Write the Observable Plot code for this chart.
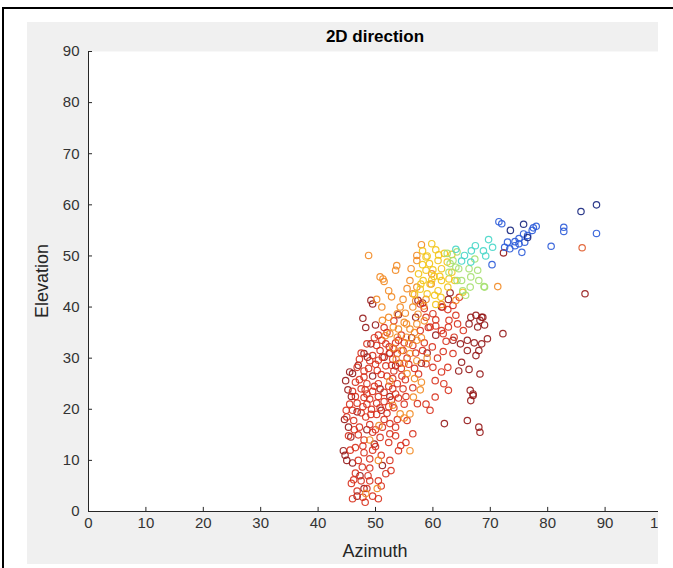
<!DOCTYPE html>
<html>
<head>
<meta charset="utf-8">
<script src="https://cdn.jsdelivr.net/npm/d3@7"></script>
<script src="https://cdn.jsdelivr.net/npm/@observablehq/plot@0.6"></script>
<style>
  html, body { margin: 0; padding: 0; background: #fff; }
  #wrap { position: relative; width: 673px; height: 568px; overflow: hidden; background: #fff; }
  #fig { position: absolute; left: 0; top: 0; width: 658px; height: 568px; overflow: hidden; }
  .bl { position: absolute; background: #000; }
  #gray { position: absolute; left: 27px; top: 22px; width: 640px; height: 542px; background: #f0f0f0; }
  #chart { position: absolute; left: 0; top: 0; width: 690px; height: 568px; }
  #chart svg { max-width: none !important; }
  .txt { position: absolute; font-family: "Liberation Sans", Arial, sans-serif; color: #262626; white-space: nowrap; }
  #title { left: 88px; width: 574px; top: 27px; text-align: center; font-weight: bold; font-size: 17px; color: #000; }
  #xlab { left: 88px; width: 574px; top: 541px; text-align: center; font-size: 18px; }
  #ylab { left: 42px; top: 281px; font-size: 18px; transform: translate(-50%, -50%) rotate(-90deg); }
</style>
</head>
<body>
<div id="wrap">
  <div id="fig">
    <div id="gray"></div>
    <div id="chart"></div>
    <div class="txt" id="title">2D direction</div>
    <div class="txt" id="xlab">Azimuth</div>
    <div class="txt" id="ylab">Elevation</div>
  </div>
  <div class="bl" style="left:2px;top:7px;width:2px;height:561px;"></div>
  <div class="bl" style="left:2px;top:7px;width:671px;height:2px;"></div>
</div>
<script>
// Tick values
const xTicks = [0, 10, 20, 30, 40, 50, 60, 70, 80, 90, 100];
const yTicks = [0, 10, 20, 30, 40, 50, 60, 70, 80, 90];

// Points [azimuth, elevation], grouped by colour of the (jet) colour value
const darkBlue = [[88.5, 60], [85.8, 58.7], [75.8, 56.2], [73.5, 55], [76.5, 53.6]];
const blue = [[71.5, 56.7], [72, 56.3], [82.8, 55.6], [82.8, 54.8], [88.5, 54.4], [80.6, 51.9], [73, 52.7], [74.3, 52.8],
  [75, 53.4], [75.8, 54.3], [76.5, 54], [77.3, 55], [73.4, 51.4], [74.3, 52], [76, 52.7], [75.5, 50.7], [75, 52.4],
  [70.3, 48.3], [77.5, 55.5], [72.5, 51.7], [78, 55.8]];
const cyan = [[69.7, 53.2], [70.4, 51.7], [68.8, 51], [66.7, 51], [65.5, 50.1], [66.6, 48.8], [69.2, 50], [64, 51.3],
  [67.4, 52], [65, 49]];
const green = [[64.2, 50.8], [63.5, 49.1], [67.3, 49.4], [64, 47.8], [66.3, 47.5], [64.2, 45.2], [69, 43.9], [66.5, 43.9],
  [65.2, 43.2], [67.8, 47.2], [68.9, 44], [64.5, 47.5], [66.6, 45.9], [65.7, 42.3], [68, 45.2], [62.8, 46.8], [65, 45.2],
  [63, 48.5], [62.5, 50.5]];
const yellow = [[59.8, 52.4], [60.5, 51.2], [59, 50], [58.8, 49.8], [59.4, 48.5], [60.9, 49.1], [62.5, 48.8], [58.8, 47.2],
  [61.5, 47.5], [63.3, 46.8], [58.3, 45.2], [61.5, 45.2], [62.6, 43.9], [59, 42.6], [60.9, 43.2], [61.4, 41.9], [63.8, 45.2],
  [65.2, 42.9], [60.2, 46], [57.5, 46.5], [59.5, 44.5], [62, 50.5], [61, 50.2], [57.8, 43.5], [60.5, 40.5], [56.8, 42.5],
  [58.2, 48.3], [60, 47.3], [61.2, 46], [62.8, 45.5], [59.8, 45.3], [60.3, 42.3], [63.3, 50.3], [58.2, 51], [57.9, 44.5]];
const orange = [[48.8, 50.1], [58, 52.2], [57.2, 50.1], [53.7, 48.1], [53.5, 47.2], [50.8, 45.9], [51.3, 45.5], [52.3, 43.2],
  [56.2, 47.5], [57.2, 49.1], [59.8, 46.5], [59.7, 44.5], [57.2, 43.9], [56, 45.2], [56.5, 42.6], [56.5, 40], [54.3, 40],
  [53.8, 38.7], [52.3, 38], [51.2, 37.4], [53.1, 36.1], [51.1, 40], [55.4, 36.7], [56, 35.7], [57.2, 36.7], [57.2, 33.5],
  [55.4, 34.1], [53.8, 34.1], [56, 30.9], [57.2, 29.5], [51.7, 34.4], [52.5, 34.8], [54, 35.7], [71.3, 44], [56.8, 26],
  [58, 25.3], [56.6, 22.4], [56, 19.1], [54.3, 19.1], [55, 18.3], [56, 11.9], [51.5, 45], [50.2, 41.5], [57.4, 38.6],
  [52.8, 42], [61.5, 40.5], [64, 41.3], [58.4, 40.2], [59, 30], [55.5, 27], [52.5, 25.5], [50.3, 4.5], [50.5, 10],
  [49, 14], [55, 37], [53, 32], [58, 34],
  [54.5, 31.5], [55.8, 32.8], [56.8, 35], [58.5, 37.3], [55.2, 38.8], [54.8, 41.5], [55.5, 43.6], [57, 41.2], [58.8, 41.5],
  [55, 29], [53.6, 29.8], [57.8, 23.8], [53, 20.8], [50.6, 16.8], [48.3, 3.5]];
const red = [[57.8, 40.6], [58.5, 39.7], [60, 38.7], [61.7, 40], [62.6, 39.5], [58.8, 38], [60.5, 37.5], [62.8, 37.4],
  [64, 38.4], [63.5, 40.3], [64.6, 41.9], [59.5, 36.1], [61.5, 35.4], [62.7, 36.1], [61.8, 34.8], [63.7, 34.1], [65.3, 35.4],
  [64.3, 36.7], [57.8, 35.4], [59.2, 36],
  [51.1, 33.5], [52.4, 32.2], [50.8, 31.5], [53.8, 30.9], [54.8, 31.5], [52.4, 30.9], [49, 29.5], [51.2, 30.2], [53, 29.8],
  [54.2, 29], [55.5, 30], [58.2, 31.5], [59.9, 32.2], [63.5, 30.9], [62.6, 28.2], [61.5, 27.3], [58.8, 28.9], [60, 28.2],
  [57.5, 26.9], [46.8, 28.2], [48, 26.3], [50.3, 27.6], [51.8, 28.5], [53.2, 27.5], [52, 26.5], [54.5, 28], [50.2, 32.5],
  [49.5, 30.5], [53.5, 33], [56.5, 32.5], [55, 33], [48.5, 32.8], [47.5, 31], [52, 35], [50.5, 34.5],
  [46.5, 25.3], [47.5, 24], [48.5, 25], [49.5, 23.5], [50.5, 25], [51.5, 23.3], [52.3, 24.5], [53.5, 23], [54.8, 24],
  [49, 22], [50.2, 21.2], [51.5, 21.5], [52.8, 21.8], [54, 22.2], [55, 21], [57.3, 21.1], [58.8, 21], [59.5, 19.8],
  [60.4, 25.6], [61.9, 25], [62.7, 23.7], [60.4, 22.4], [45.5, 21], [46.5, 22.5], [47.8, 20.5], [48.5, 23], [53, 26],
  [55.2, 25.8], [56.5, 24.2], [48, 27.5], [46, 23.5], [50.5, 22.5], [53.2, 20.3],
  [46.2, 17.8], [47.2, 16.5], [48.3, 18.5], [49, 17], [50.2, 19], [51.5, 18], [52.5, 17.2], [53.5, 16.5], [55.5, 17.8],
  [47, 15], [48, 14], [49.5, 15.5], [50.8, 14.5], [52.3, 13.5], [54.4, 12.9], [54, 11.9], [46.5, 12.5], [48, 11.5],
  [49.5, 12], [51, 11], [52.5, 10], [52.7, 8], [51.8, 7.4], [47, 10], [49, 8.5], [50.5, 6], [45, 18.5], [46, 19.8],
  [47.5, 19.3], [53.5, 14.8], [56.5, 15.2], [55.3, 13.5], [45.3, 14.8], [49.3, 20],
  [46.5, 7.5], [47.5, 6], [48.5, 4.5], [46.8, 4], [47.8, 2.8], [49.5, 3], [48.2, 1.8], [46, 2.5], [50.5, 2.5],
  [45.8, 5.5], [49, 6], [51, 5],
  [48.5, 21], [49.8, 24.5], [51, 26.8], [52.8, 28.6], [50, 28.8], [48.8, 28], [47.2, 25.8], [49.2, 19], [50.8, 20.3],
  [52, 19.2], [53.8, 18], [48, 22.3], [51.2, 16.5], [50, 16], [52.5, 15.2], [47.8, 12.8], [46.3, 16], [45.6, 12],
  [53, 24], [54.6, 26.5], [55.8, 28.8], [51.8, 32.8], [53.2, 31.8], [54.5, 34.5], [49.8, 34], [50.5, 29.6], [47.2, 29.8],
  [48.2, 23.8], [46.8, 21.2], [44.9, 19.8], [53.8, 25], [55.3, 22.5], [52.3, 20.5], [49, 10.3], [50, 12.7], [47.7, 8.7],
  [48.7, 7], [46.2, 6.2], [56.8, 28], [58.5, 33], [60.8, 30], [61.8, 31.3], [62.3, 33.3], [60.5, 36.3], [57, 31],
  [54, 33.5], [51.5, 36], [53.2, 37.3]];
const darkRed = [[49.5, 40.6], [49.2, 41.3], [57.4, 41.3], [58.2, 40.8], [61.5, 40], [66.6, 38], [67.5, 38.4], [68.2, 37.4],
  [67.8, 36.1], [66.3, 36.7], [68.5, 38], [72.2, 34.8], [66, 33.5], [67.2, 33], [68.5, 32.8], [68, 31.5], [66, 31.5],
  [65, 29.2], [68.2, 26.9], [64.8, 32.8], [66.5, 23.7], [67, 22.7], [66, 17.8], [68, 16.5], [68.2, 15.5], [62, 17.2],
  [66.6, 21.7], [67, 23], [86.5, 42.6], [72.3, 50.6], [68.7, 38], [69, 36.5], [49.2, 32.8], [48, 30.9], [48.6, 30.2],
  [51.5, 30.2], [52.5, 31], [44.8, 25.6], [45.5, 27.3], [47, 28.6], [45.8, 22.5], [45.3, 16.5], [45.7, 14.6],
  [44.4, 11.9], [45, 10], [44.7, 11], [46, 9.5], [47.3, 7], [46.8, 3], [48, 4.5], [46, 27], [49.5, 26.5], [50.8, 24],
  [52.5, 22.5], [53.5, 28.5], [51, 19.8], [48.5, 16], [56.3, 34], [60.5, 34.5], [59, 31], [58, 29], [57, 38], [54, 38.5],
  [63.5, 33.5], [64.5, 27.5], [46.8, 19.5], [49.8, 13.2], [51.2, 9], [50, 36.5], [48.3, 36],
  [62.7, 41.5], [63, 42.8], [45.2, 23.8], [44.6, 18], [47.8, 37.8], [69.5, 33.8], [67.5, 30.5], [66.3, 27.8]];
const orangeRed = [[86, 51.6]];

const groups = [
  {pts: darkRed, color: "#951818"},
  {pts: red, color: "#d8301c"},
  {pts: orangeRed, color: "#e05a2a"},
  {pts: orange, color: "#f28a22"},
  {pts: yellow, color: "#f3c416"},
  {pts: green, color: "#a6e070"},
  {pts: cyan, color: "#46d6c8"},
  {pts: blue, color: "#2a5ad8"},
  {pts: darkBlue, color: "#16267e"}
];

const dotMarks = groups.map(g => Plot.dot(g.pts, {
  x: d => d[0], y: d => d[1], r: 3.2, fill: "none", stroke: g.color, strokeWidth: 1.2, strokeOpacity: 0.9
}));

const chart = Plot.plot({
  width: 690,
  height: 568,
  marginLeft: 88,
  marginRight: 28,
  marginTop: 51,
  marginBottom: 57,
  style: {fontFamily: "Liberation Sans, Arial, sans-serif", fontSize: "15px", color: "#333", background: "transparent", overflow: "visible", maxWidth: "none"},
  x: {domain: [0, 100], ticks: xTicks, tickSize: 0, tickPadding: 6, label: null},
  y: {domain: [0, 90], ticks: yTicks, tickSize: 0, tickPadding: 9, label: null},
  marks: [
    Plot.frame({fill: "white", stroke: "none"}),
    ...dotMarks,
    Plot.ruleX(xTicks, {x: d => d, y1: 0, y2: 0.8, stroke: "#262626"}),
    Plot.ruleY(yTicks, {y: d => d, x1: 0, x2: 0.7, stroke: "#262626"}),
    Plot.ruleY([0], {stroke: "#262626"}),
    Plot.ruleX([0], {stroke: "#262626"})
  ]
});
document.getElementById("chart").appendChild(chart);
</script>
</body>
</html>
